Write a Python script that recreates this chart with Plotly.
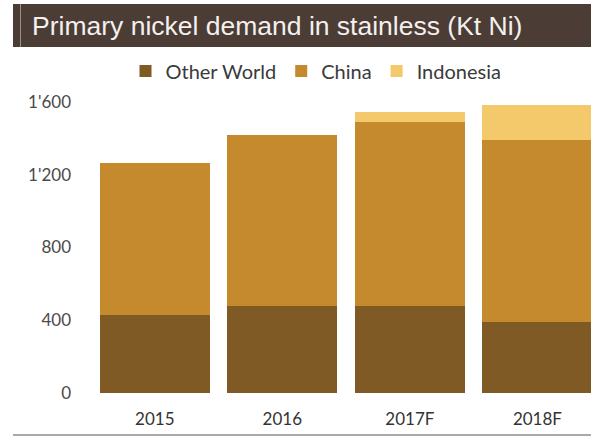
import plotly.graph_objects as go

# Primary nickel demand in stainless steel, kt Ni
years = ["2015", "2016", "2017F", "2018F"]
other_world = [427, 476, 480, 390]
china = [838, 945, 1010, 1003]
indonesia = [0, 0, 55, 192]

y_tick_vals = [0, 400, 800, 1200, 1600]
y_tick_text = ["0", "400", "800", "1'200", "1'600"]

title_text = "Primary nickel demand in stainless (Kt Ni)"

colors = {
    "Other World": "#7f5a25",
    "China": "#c48a2d",
    "Indonesia": "#f3c96c",
}

fig = go.Figure()
for name, vals in [("Other World", other_world), ("China", china), ("Indonesia", indonesia)]:
    fig.add_trace(go.Bar(
        x=years, y=vals, name=name,
        marker=dict(color=colors[name], line=dict(width=0)),
        hoverinfo="x+y+name",
    ))

W, H = 591, 439
ml, mr, mt, mb = 91, 0, 90, 46
plot_w = W - ml - mr
plot_h = H - mt - mb


def px_x(x):
    return (x - ml) / plot_w


def px_y(y):
    return (H - mb - y) / plot_h


fig.update_layout(
    width=W, height=H,
    margin=dict(l=ml, r=mr, t=mt, b=mb, pad=0),
    barmode="stack",
    bargap=0.137,
    paper_bgcolor="white",
    plot_bgcolor="white",
    showlegend=True,
    legend=dict(
        orientation="h",
        x=px_x(316), xanchor="center",
        y=px_y(71), yanchor="middle",
        font=dict(family="Lato", size=20, color="#3a3a3a"),
        bgcolor="rgba(0,0,0,0)",
        traceorder="normal",
    ),
    xaxis=dict(
        range=[-0.5, 3.42],
        showgrid=False, zeroline=False, showline=False,
        ticks="",
        tickfont=dict(family="Lato", size=17, color="#333333"),
        ticklabelstandoff=14,
        fixedrange=True,
    ),
    yaxis=dict(
        range=[0, plot_h * 400 / 72.75],
        tickvals=y_tick_vals, ticktext=y_tick_text,
        showgrid=False, zeroline=False, showline=False,
        ticks="",
        tickfont=dict(family="Lato", size=17, color="#4a4a4a"),
        ticklabelstandoff=19,
        fixedrange=True,
    ),
    shapes=[
        # dark title banner
        dict(type="rect", xref="paper", yref="paper",
             x0=px_x(13), x1=1.0, y0=px_y(47), y1=px_y(4),
             fillcolor="#4b3c35", line=dict(width=0), layer="below"),
        # thin light rule inside the banner
        dict(type="line", xref="paper", yref="paper",
             x0=px_x(20.5), x1=px_x(20.5), y0=px_y(47), y1=px_y(4),
             line=dict(color="#9a8f89", width=1)),
        # baseline rule under the category labels
        dict(type="line", xref="paper", yref="paper",
             x0=px_x(13), x1=1.0, y0=px_y(435), y1=px_y(435),
             line=dict(color="#8c8c8c", width=1.5)),
    ],
    annotations=[
        dict(text=title_text, xref="paper", yref="paper",
             x=px_x(30), xanchor="left", y=px_y(26), yanchor="middle",
             showarrow=False,
             font=dict(family="Liberation Sans", size=26.5, color="#f4f0ee")),
    ],
)

fig.write_html("out.html")
